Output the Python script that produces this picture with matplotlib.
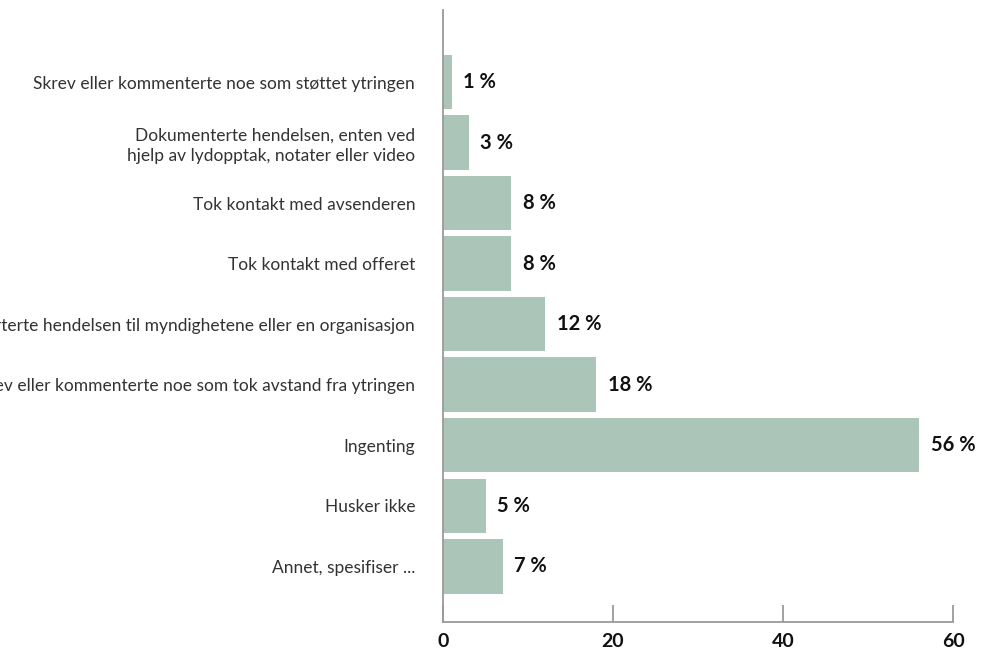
import matplotlib.pyplot as plt
import numpy as np

plt.rcParams['font.family'] = ['Lato', 'DejaVu Sans']

# Data
categories = [
    "Skrev eller kommenterte noe som støttet ytringen",
    "Dokumenterte hendelsen, enten ved\nhjelp av lydopptak, notater eller video",
    "Tok kontakt med avsenderen",
    "Tok kontakt med offeret",
    "Rapporterte hendelsen til myndighetene eller en organisasjon",
    "Skrev eller kommenterte noe som tok avstand fra ytringen",
    "Ingenting",
    "Husker ikke",
    "Annet, spesifiser ...",
]
values = [1, 3, 8, 8, 12, 18, 56, 5, 7]
value_labels = ["1 %", "3 %", "8 %", "8 %", "12 %", "18 %", "56 %", "5 %", "7 %"]
xticks = [0, 20, 40, 60]

bar_color = "#abc5b8"
axis_color = "#9a9a9a"

fig = plt.figure(figsize=(9.88, 6.54), dpi=100)
ax = fig.add_axes([0.4484, 0.0489, 0.9646 - 0.4484, 0.9847 - 0.0489])

y = np.arange(len(categories))
ax.barh(y, values, height=0.9, color=bar_color, zorder=1)

for yi, v, lab in zip(y, values, value_labels):
    ax.annotate(lab, xy=(v, yi), xytext=(8.5, 0), textcoords="offset points",
                ha="left", va="center", fontsize=14.5, fontweight="bold", color="#111111")

ax.set_xlim(0, 60)
ax.set_ylim(len(categories) - 1 + 0.92, -1.19)

ax.set_yticks(y)
ax.set_yticklabels(categories, fontsize=12.5, color="#333333", ha="right", linespacing=1.3)
ax.tick_params(axis="y", length=0, pad=20)

ax.set_xticks(xticks)
ax.set_xticklabels([str(t) for t in xticks], fontsize=14, fontweight="bold", color="#111111")
ax.tick_params(axis="x", direction="in", length=12.5, width=1.3, color=axis_color, pad=8)

for side in ["top", "right"]:
    ax.spines[side].set_visible(False)
for side in ["left", "bottom"]:
    ax.spines[side].set_color(axis_color)
    ax.spines[side].set_linewidth(1.3)
    ax.spines[side].set_zorder(3)

fig.savefig("out.png", dpi=100)
